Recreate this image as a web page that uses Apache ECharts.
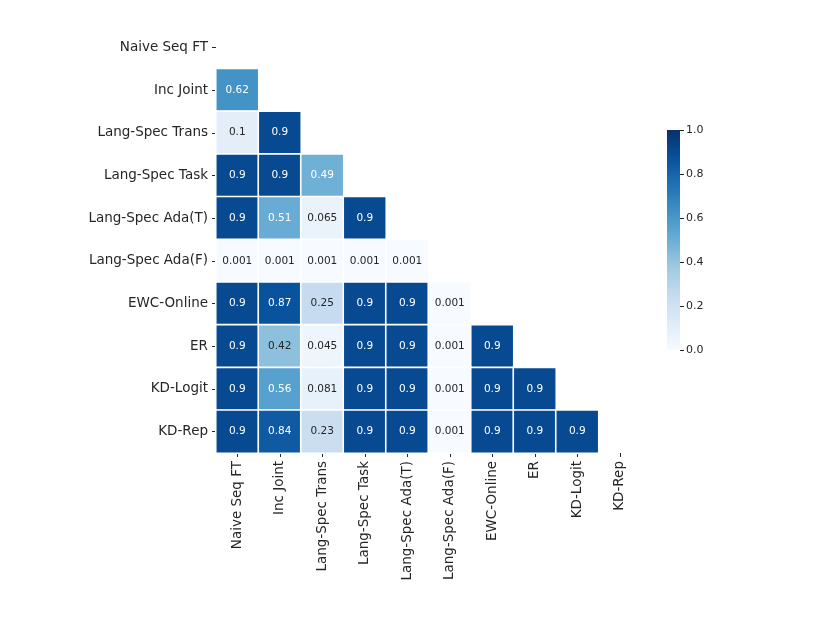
<!DOCTYPE html>
<html>
<head>
<meta charset="utf-8">
<script src="https://cdn.jsdelivr.net/npm/echarts@6/dist/echarts.min.js"></script>
<style>
  html, body { margin: 0; padding: 0; background: #fff; }
  #heatmap { width: 830px; height: 642px; }
</style>
</head>
<body>
<div id="heatmap"></div>
<script>
// method names (rows top->bottom, columns left->right)
var methods = ['Naive Seq FT', 'Inc Joint', 'Lang-Spec Trans', 'Lang-Spec Task',
    'Lang-Spec Ada(T)', 'Lang-Spec Ada(F)', 'EWC-Online', 'ER', 'KD-Logit', 'KD-Rep'];

// lower triangle, one array per row (column 0 .. row-1)
var rowIncJoint   = [0.62];
var rowTrans      = [0.1, 0.9];
var rowTask       = [0.9, 0.9, 0.49];
var rowAdaT       = [0.9, 0.51, 0.065, 0.9];
var rowAdaF       = [0.001, 0.001, 0.001, 0.001, 0.001];
var rowEWC        = [0.9, 0.87, 0.25, 0.9, 0.9, 0.001];
var rowER         = [0.9, 0.42, 0.045, 0.9, 0.9, 0.001, 0.9];
var rowKDLogit    = [0.9, 0.56, 0.081, 0.9, 0.9, 0.001, 0.9, 0.9];
var rowKDRep      = [0.9, 0.84, 0.23, 0.9, 0.9, 0.001, 0.9, 0.9, 0.9];

var rows = [[], rowIncJoint, rowTrans, rowTask, rowAdaT, rowAdaF, rowEWC, rowER, rowKDLogit, rowKDRep];

// colour scale range
var scaleMin = 0;
var scaleMax = 1;

// seaborn "Blues"
var blues = ['#f7fbff', '#deebf7', '#c6dbef', '#9ecae1', '#6baed6', '#4292c6', '#2171b5', '#08519c', '#08306b'];

var cells = [];
rows.forEach(function (r, i) {
    r.forEach(function (v, j) {
        cells.push({
            value: [j, i, v],
            label: { color: v > 0.45 ? '#ffffff' : '#262626' }
        });
    });
});

// gradient for the colour bar (bottom = min, top = max)
var stops = blues.map(function (c, k) {
    return { offset: 1 - k / (blues.length - 1), color: c };
}).reverse();

var dom = document.getElementById('heatmap');
var myChart = echarts.init(dom);

var option = {
    backgroundColor: '#fff',
    textStyle: { fontFamily: 'DejaVu Sans' },
    grid: [
        { left: 216, top: 26, width: 425, height: 427 },
        { left: 667, top: 130, width: 13, height: 220 }   // colorbar
    ],
    xAxis: [
        {
            type: 'category',
            gridIndex: 0,
            data: methods,
            axisLine: { show: false },
            axisTick: { show: true, alignWithLabel: true, length: 4, lineStyle: { color: '#262626' } },
            axisLabel: { rotate: 90, fontSize: 13.5, color: '#262626', margin: 8 },
            splitLine: { show: false }
        },
        { type: 'category', gridIndex: 1, show: false, data: ['cb'] }
    ],
    yAxis: [
        {
            type: 'category',
            gridIndex: 0,
            data: methods,
            inverse: true,
            axisLine: { show: false },
            axisTick: { show: true, alignWithLabel: true, length: 4, lineStyle: { color: '#262626' } },
            axisLabel: { fontSize: 13.5, color: '#262626', margin: 8 },
            splitLine: { show: false }
        },
        {
            type: 'value',
            gridIndex: 1,
            position: 'right',
            min: scaleMin, max: scaleMax, interval: 0.2,
            axisLine: { show: false },
            axisTick: { show: true, length: 4, lineStyle: { color: '#262626' } },
            axisLabel: { fontSize: 11, color: '#262626', margin: 6,
                formatter: function (v) { return v.toFixed(1); } },
            splitLine: { show: false }
        }
    ],
    visualMap: {
        type: 'continuous',
        show: false,
        seriesIndex: 0,
        min: scaleMin,
        max: scaleMax,
        inRange: { color: blues }
    },
    series: [
        {
            type: 'heatmap',
            xAxisIndex: 0,
            yAxisIndex: 0,
            data: cells,
            label: { show: true, fontSize: 10.5, formatter: function (p) { return String(p.value[2]); } },
            itemStyle: { borderColor: '#ffffff', borderWidth: 1.6 },
            emphasis: { disabled: true }
        },
        {
            type: 'bar',
            xAxisIndex: 1,
            yAxisIndex: 1,
            data: [scaleMax],
            barWidth: '100%',
            silent: true,
            itemStyle: {
                color: new echarts.graphic.LinearGradient(0, 1, 0, 0, blues.map(function (c, k) {
                    return { offset: k / (blues.length - 1), color: c };
                }))
            }
        }
    ]
};

myChart.setOption(option, true);
</script>
</body>
</html>
